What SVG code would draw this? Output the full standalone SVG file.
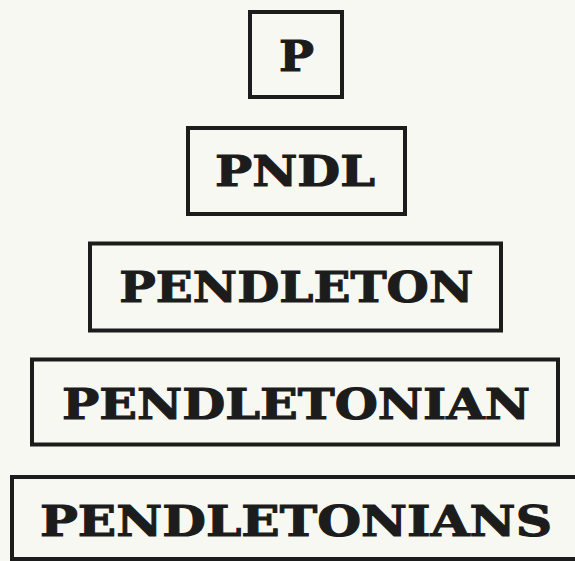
<svg xmlns="http://www.w3.org/2000/svg" width="575" height="561" viewBox="0 0 575 561">
<style>
.box{fill:none;stroke:#1c1c1c;stroke-width:4}
.lbl{font-family:"DejaVu Serif",serif;font-weight:bold;font-size:43px;fill:#1c1c1c;stroke:#1c1c1c;stroke-width:1.1;text-anchor:middle}
</style>
<rect width="575" height="561" fill="#f8f8f3"/>
<g id="connectors"/>
<g id="n1"><rect class="box" x="250" y="12" width="92" height="85"/><text class="lbl" x="296.5" y="70.5" textLength="35" lengthAdjust="spacingAndGlyphs">P</text></g>
<g id="n2"><rect class="box" x="188" y="128" width="217" height="86"/><text class="lbl" x="295" y="185.5" textLength="160" lengthAdjust="spacingAndGlyphs">PNDL</text></g>
<g id="n3"><rect class="box" x="90" y="243.5" width="411" height="87"/><text class="lbl" x="296.3" y="301.5" textLength="354" lengthAdjust="spacingAndGlyphs">PENDLETON</text></g>
<g id="n4"><rect class="box" x="32" y="359.5" width="526" height="85"/><text class="lbl" x="296" y="418.5" textLength="468" lengthAdjust="spacingAndGlyphs">PENDLETONIAN</text></g>
<g id="n5"><rect class="box" x="12" y="477" width="568" height="82"/><text class="lbl" x="296" y="535.5" textLength="512" lengthAdjust="spacingAndGlyphs">PENDLETONIANS</text></g>
</svg>
